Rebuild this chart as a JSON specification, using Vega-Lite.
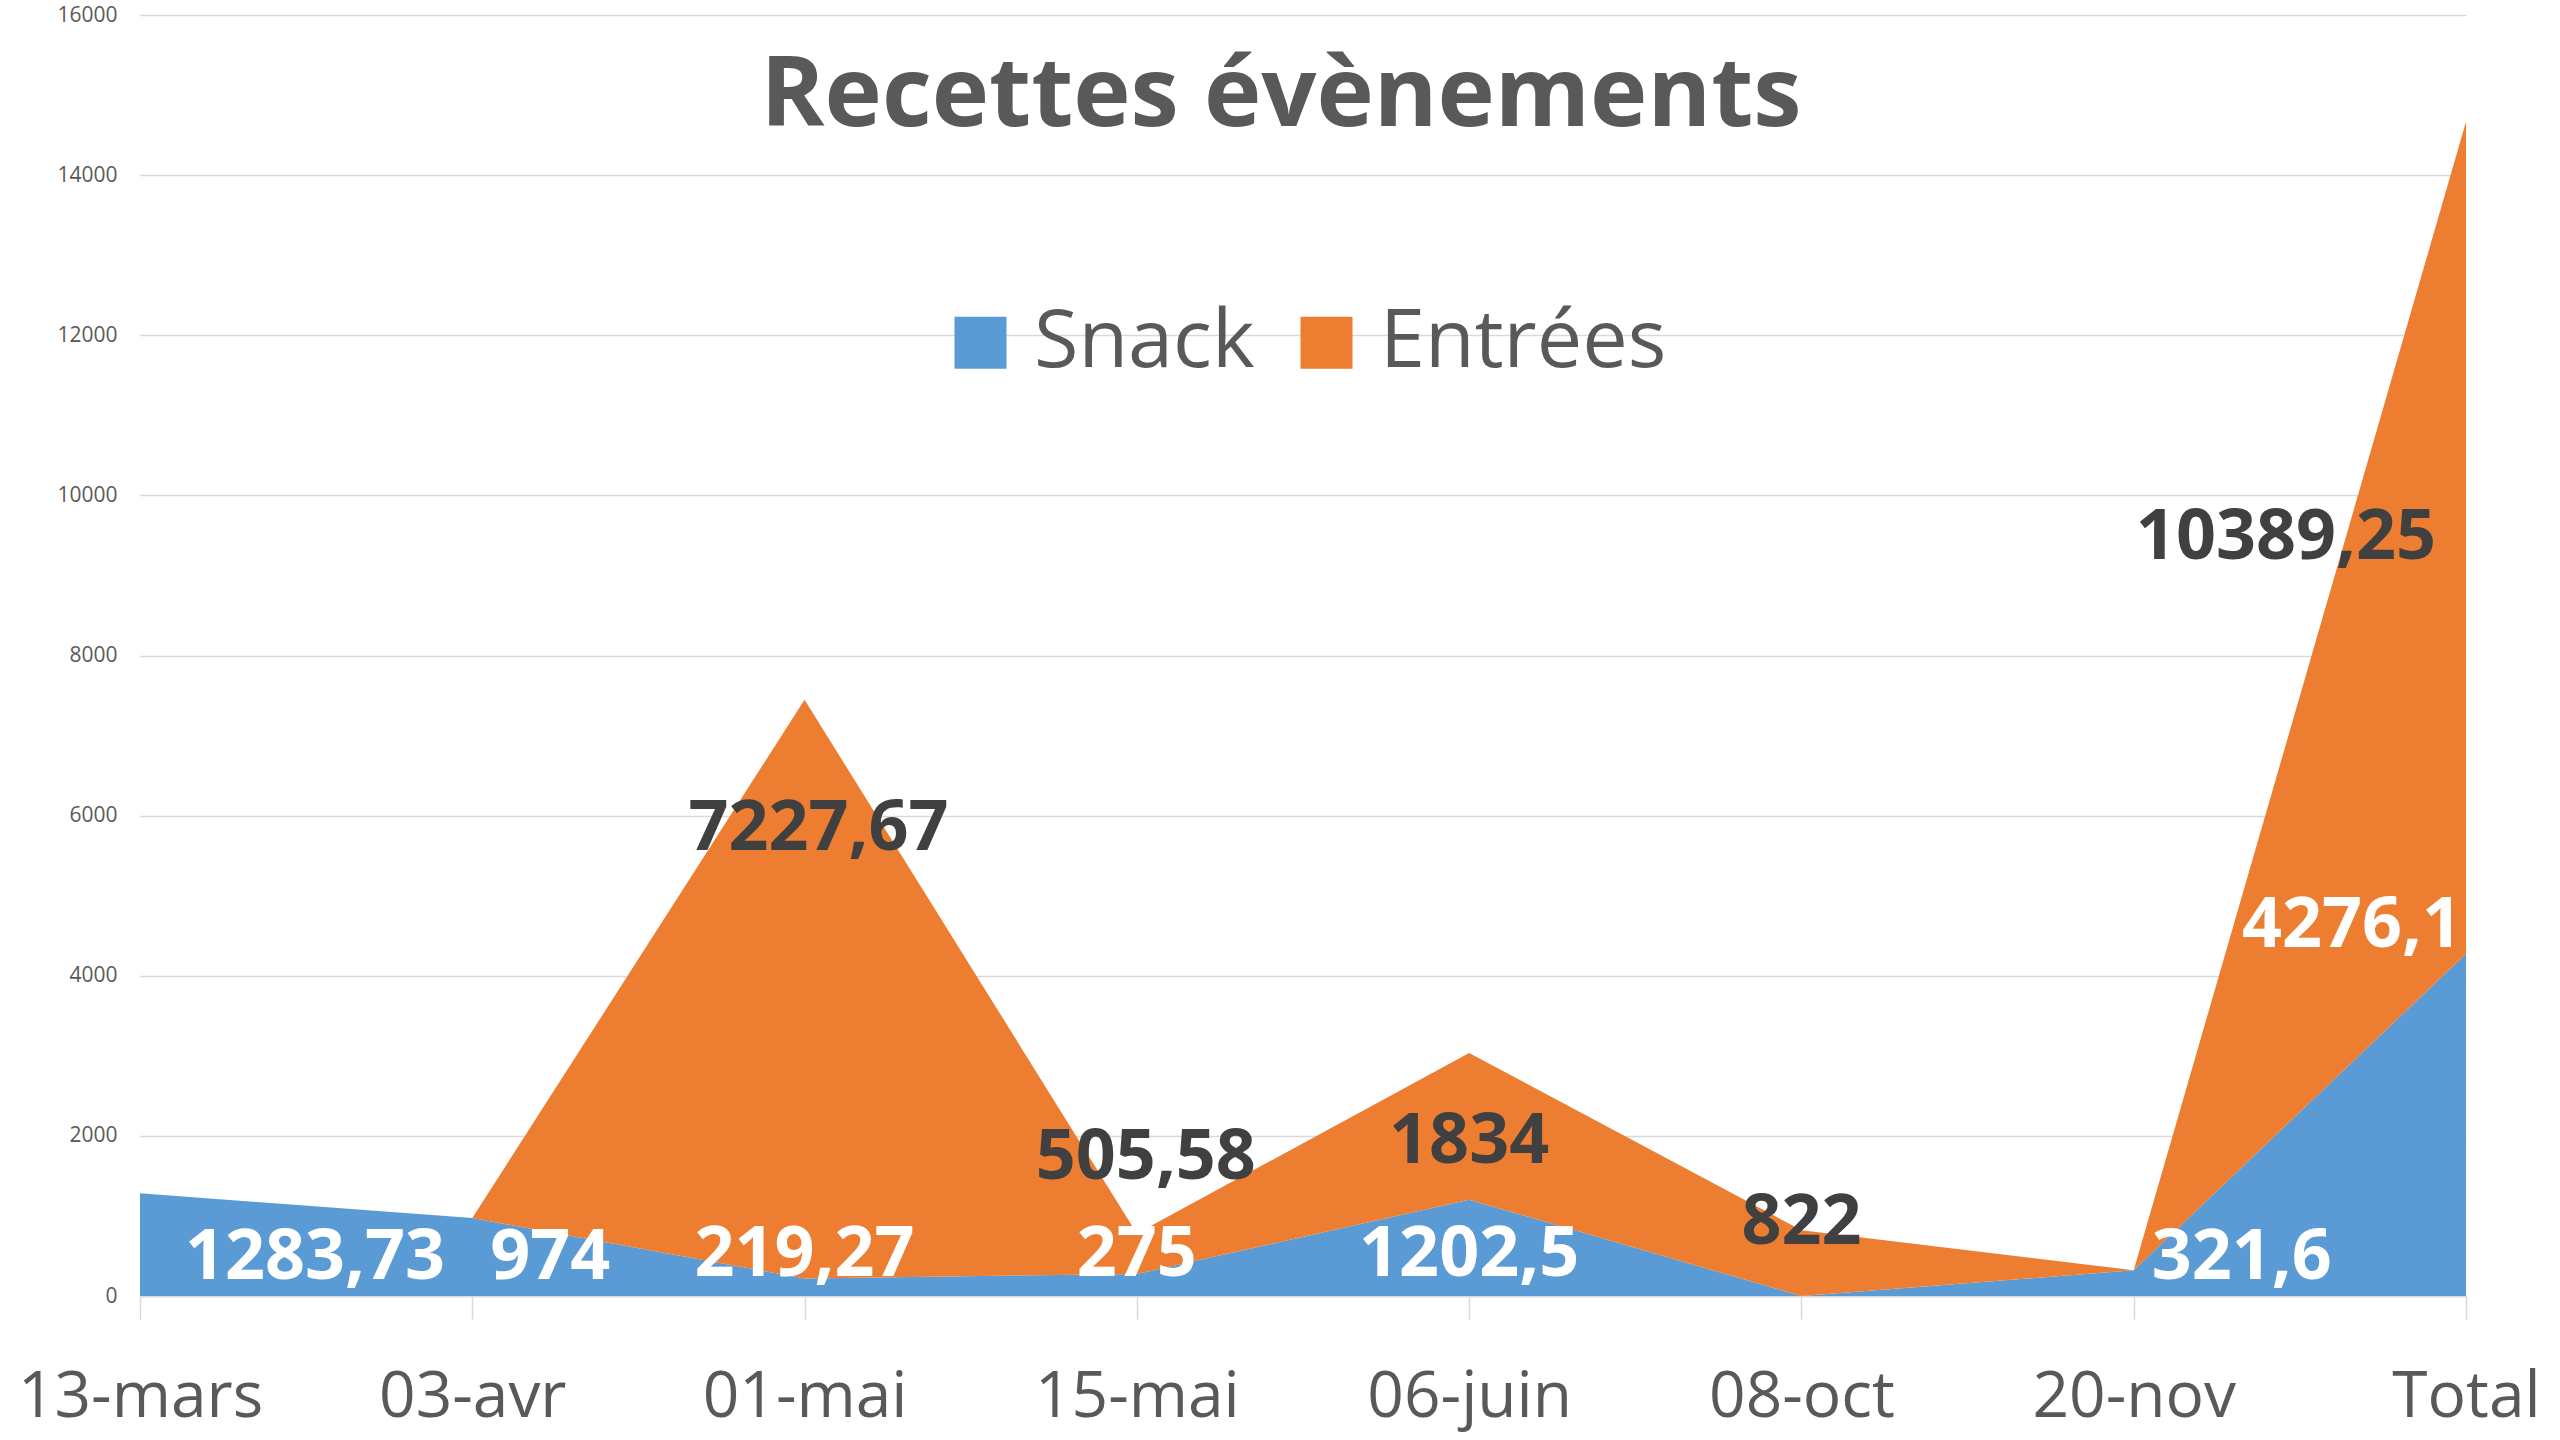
{
  "$schema": "https://vega.github.io/schema/vega-lite/v6.json",
  "width": 2326,
  "height": 1281,
  "autosize": {"type": "none"},
  "padding": {"left": 140, "top": 15, "right": 94, "bottom": 144},
  "background": "white",
  "config": {
    "font": "Open Sans",
    "view": {"stroke": null},
    "locale": {"number": {"decimal": ",", "thousands": "\u00a0", "grouping": [3], "currency": ["", " €"]}}
  },
  "title": {
    "text": "Recettes évènements",
    "frame": "group",
    "anchor": "middle",
    "baseline": "alphabetic",
    "offset": -117,
    "dx": -22,
    "dy": 102,
    "fontSize": 97,
    "fontWeight": "bold",
    "color": "#595959",
    "font": "Open Sans"
  },
  "data": {
    "values": [
      {"cat": "13-mars", "serie": "Snack", "v": 1283.73},
      {"cat": "13-mars", "serie": "Entrées", "v": 0},
      {"cat": "03-avr", "serie": "Snack", "v": 974},
      {"cat": "03-avr", "serie": "Entrées", "v": 0},
      {"cat": "01-mai", "serie": "Snack", "v": 219.27},
      {"cat": "01-mai", "serie": "Entrées", "v": 7227.67},
      {"cat": "15-mai", "serie": "Snack", "v": 275},
      {"cat": "15-mai", "serie": "Entrées", "v": 505.58},
      {"cat": "06-juin", "serie": "Snack", "v": 1202.5},
      {"cat": "06-juin", "serie": "Entrées", "v": 1834},
      {"cat": "08-oct", "serie": "Snack", "v": 0},
      {"cat": "08-oct", "serie": "Entrées", "v": 822},
      {"cat": "20-nov", "serie": "Snack", "v": 321.6},
      {"cat": "20-nov", "serie": "Entrées", "v": 0},
      {"cat": "Total", "serie": "Snack", "v": 4276.1},
      {"cat": "Total", "serie": "Entrées", "v": 10389.25}
    ]
  },
  "encoding": {
    "x": {
      "field": "cat",
      "type": "nominal",
      "sort": null,
      "scale": {"type": "point", "padding": 0, "domain": ["13-mars", "03-avr", "01-mai", "15-mai", "06-juin", "08-oct", "20-nov", "Total"]},
      "axis": {
        "title": null,
        "labelAngle": 0,
        "labelFontSize": 64,
        "labelFont": "Open Sans",
        "labelColor": "#595959",
        "labelPadding": 46,
        "labelOverlap": false,
        "labelLimit": 0,
        "tickSize": 23,
        "tickColor": "#D9D9D9",
        "tickWidth": 1.5,
        "domainColor": "#D9D9D9",
        "domainWidth": 1.5,
        "grid": false
      }
    }
  },
  "layer": [
    {
      "mark": {"type": "area", "opacity": 1},
      "encoding": {
        "y": {
          "field": "v",
          "type": "quantitative",
          "stack": "zero",
          "scale": {"domain": [0, 16000], "nice": false},
          "axis": {
            "title": null,
            "values": [0, 2000, 4000, 6000, 8000, 10000, 12000, 14000, 16000],
            "format": "d",
            "labelFontSize": 21,
            "labelFont": "Open Sans",
            "labelColor": "#595959",
            "labelPadding": 23,
            "ticks": false,
            "tickSize": 0,
            "domain": false,
            "grid": true,
            "gridColor": "#D9D9D9",
            "gridWidth": 1.5
          }
        },
        "color": {
          "field": "serie",
          "type": "nominal",
          "scale": {"domain": ["Snack", "Entrées"], "range": ["#5B9BD5", "#ED7D31"]},
          "legend": {
            "title": null,
            "orient": "none",
            "legendX": 800,
            "legendY": 287,
            "direction": "horizontal",
            "columns": 2,
            "symbolType": "square",
            "symbolSize": 2704,
            "symbolStrokeWidth": 0,
            "symbolOpacity": 1,
            "labelFontSize": 81,
            "labelFont": "Open Sans",
            "labelColor": "#595959",
            "labelOffset": 13,
            "columnPadding": 31,
            "padding": 0,
            "labelLimit": 0
          }
        },
        "order": {"field": "serie", "sort": "descending"}
      }
    },
    {
      "transform": [{"filter": "datum.serie === 'Snack' && (datum.cat === '01-mai' || datum.cat === '15-mai' || datum.cat === '06-juin')"}],
      "mark": {"type": "text", "font": "Open Sans", "fontWeight": "bold", "fontSize": 70, "baseline": "middle", "align": "center", "dy": -41, "fill": "#FFFFFF"},
      "encoding": {
        "y": {"datum": 0, "type": "quantitative", "title": null},
        "text": {"field": "v", "type": "quantitative", "format": "~f"}
      }
    },
    {
      "transform": [{"filter": "datum.serie === 'Snack' && datum.cat === '13-mars'"}],
      "mark": {"type": "text", "font": "Open Sans", "fontWeight": "bold", "fontSize": 70, "baseline": "middle", "align": "left", "dx": 45, "dy": -38, "fill": "#FFFFFF"},
      "encoding": {
        "y": {"datum": 0, "type": "quantitative", "title": null},
        "text": {"field": "v", "type": "quantitative", "format": "~f"}
      }
    },
    {
      "transform": [{"filter": "datum.serie === 'Snack' && (datum.cat === '03-avr' || datum.cat === '20-nov')"}],
      "mark": {"type": "text", "font": "Open Sans", "fontWeight": "bold", "fontSize": 70, "baseline": "middle", "align": "left", "dx": 18, "dy": -38, "fill": "#FFFFFF"},
      "encoding": {
        "y": {"datum": 0, "type": "quantitative", "title": null},
        "text": {"field": "v", "type": "quantitative", "format": "~f"}
      }
    },
    {
      "transform": [{"filter": "datum.serie === 'Snack' && datum.cat === 'Total'"}],
      "mark": {"type": "text", "font": "Open Sans", "fontWeight": "bold", "fontSize": 70, "baseline": "middle", "align": "right", "dx": -4, "dy": -28, "fill": "#FFFFFF"},
      "encoding": {
        "y": {"field": "v", "type": "quantitative", "stack": null, "title": null},
        "text": {"field": "v", "type": "quantitative", "format": "~f"}
      }
    },
    {
      "transform": [{"filter": "datum.serie === 'Entrées' && (datum.cat === '06-juin' || datum.cat === '08-oct')"}],
      "mark": {"type": "text", "font": "Open Sans", "fontWeight": "bold", "fontSize": 70, "baseline": "middle", "align": "center", "dy": -7, "fill": "#404040"},
      "encoding": {
        "y": {"field": "v", "type": "quantitative", "stack": null, "title": null},
        "text": {"field": "v", "type": "quantitative", "format": "~f"}
      }
    },
    {
      "transform": [{"filter": "datum.serie === 'Entrées' && datum.cat === '01-mai'"}],
      "mark": {"type": "text", "font": "Open Sans", "fontWeight": "bold", "fontSize": 70, "baseline": "middle", "align": "center", "dx": 14, "dy": 112, "fill": "#404040"},
      "encoding": {
        "y": {"field": "v", "type": "quantitative", "stack": null, "title": null},
        "text": {"field": "v", "type": "quantitative", "format": "~f"}
      }
    },
    {
      "transform": [{"filter": "datum.serie === 'Entrées' && datum.cat === '15-mai'"}],
      "mark": {"type": "text", "font": "Open Sans", "fontWeight": "bold", "fontSize": 70, "baseline": "middle", "align": "center", "dx": 9, "dy": -98, "fill": "#404040"},
      "encoding": {
        "y": {"field": "v", "type": "quantitative", "stack": null, "title": null},
        "text": {"field": "v", "type": "quantitative", "format": "~f"}
      }
    },
    {
      "transform": [{"filter": "datum.serie === 'Entrées' && datum.cat === 'Total'"}],
      "mark": {"type": "text", "font": "Open Sans", "fontWeight": "bold", "fontSize": 70, "baseline": "middle", "align": "right", "dx": -30, "dy": 74, "fill": "#404040"},
      "encoding": {
        "y": {"field": "v", "type": "quantitative", "stack": null, "title": null},
        "text": {"field": "v", "type": "quantitative", "format": "~f"}
      }
    }
  ]
}
